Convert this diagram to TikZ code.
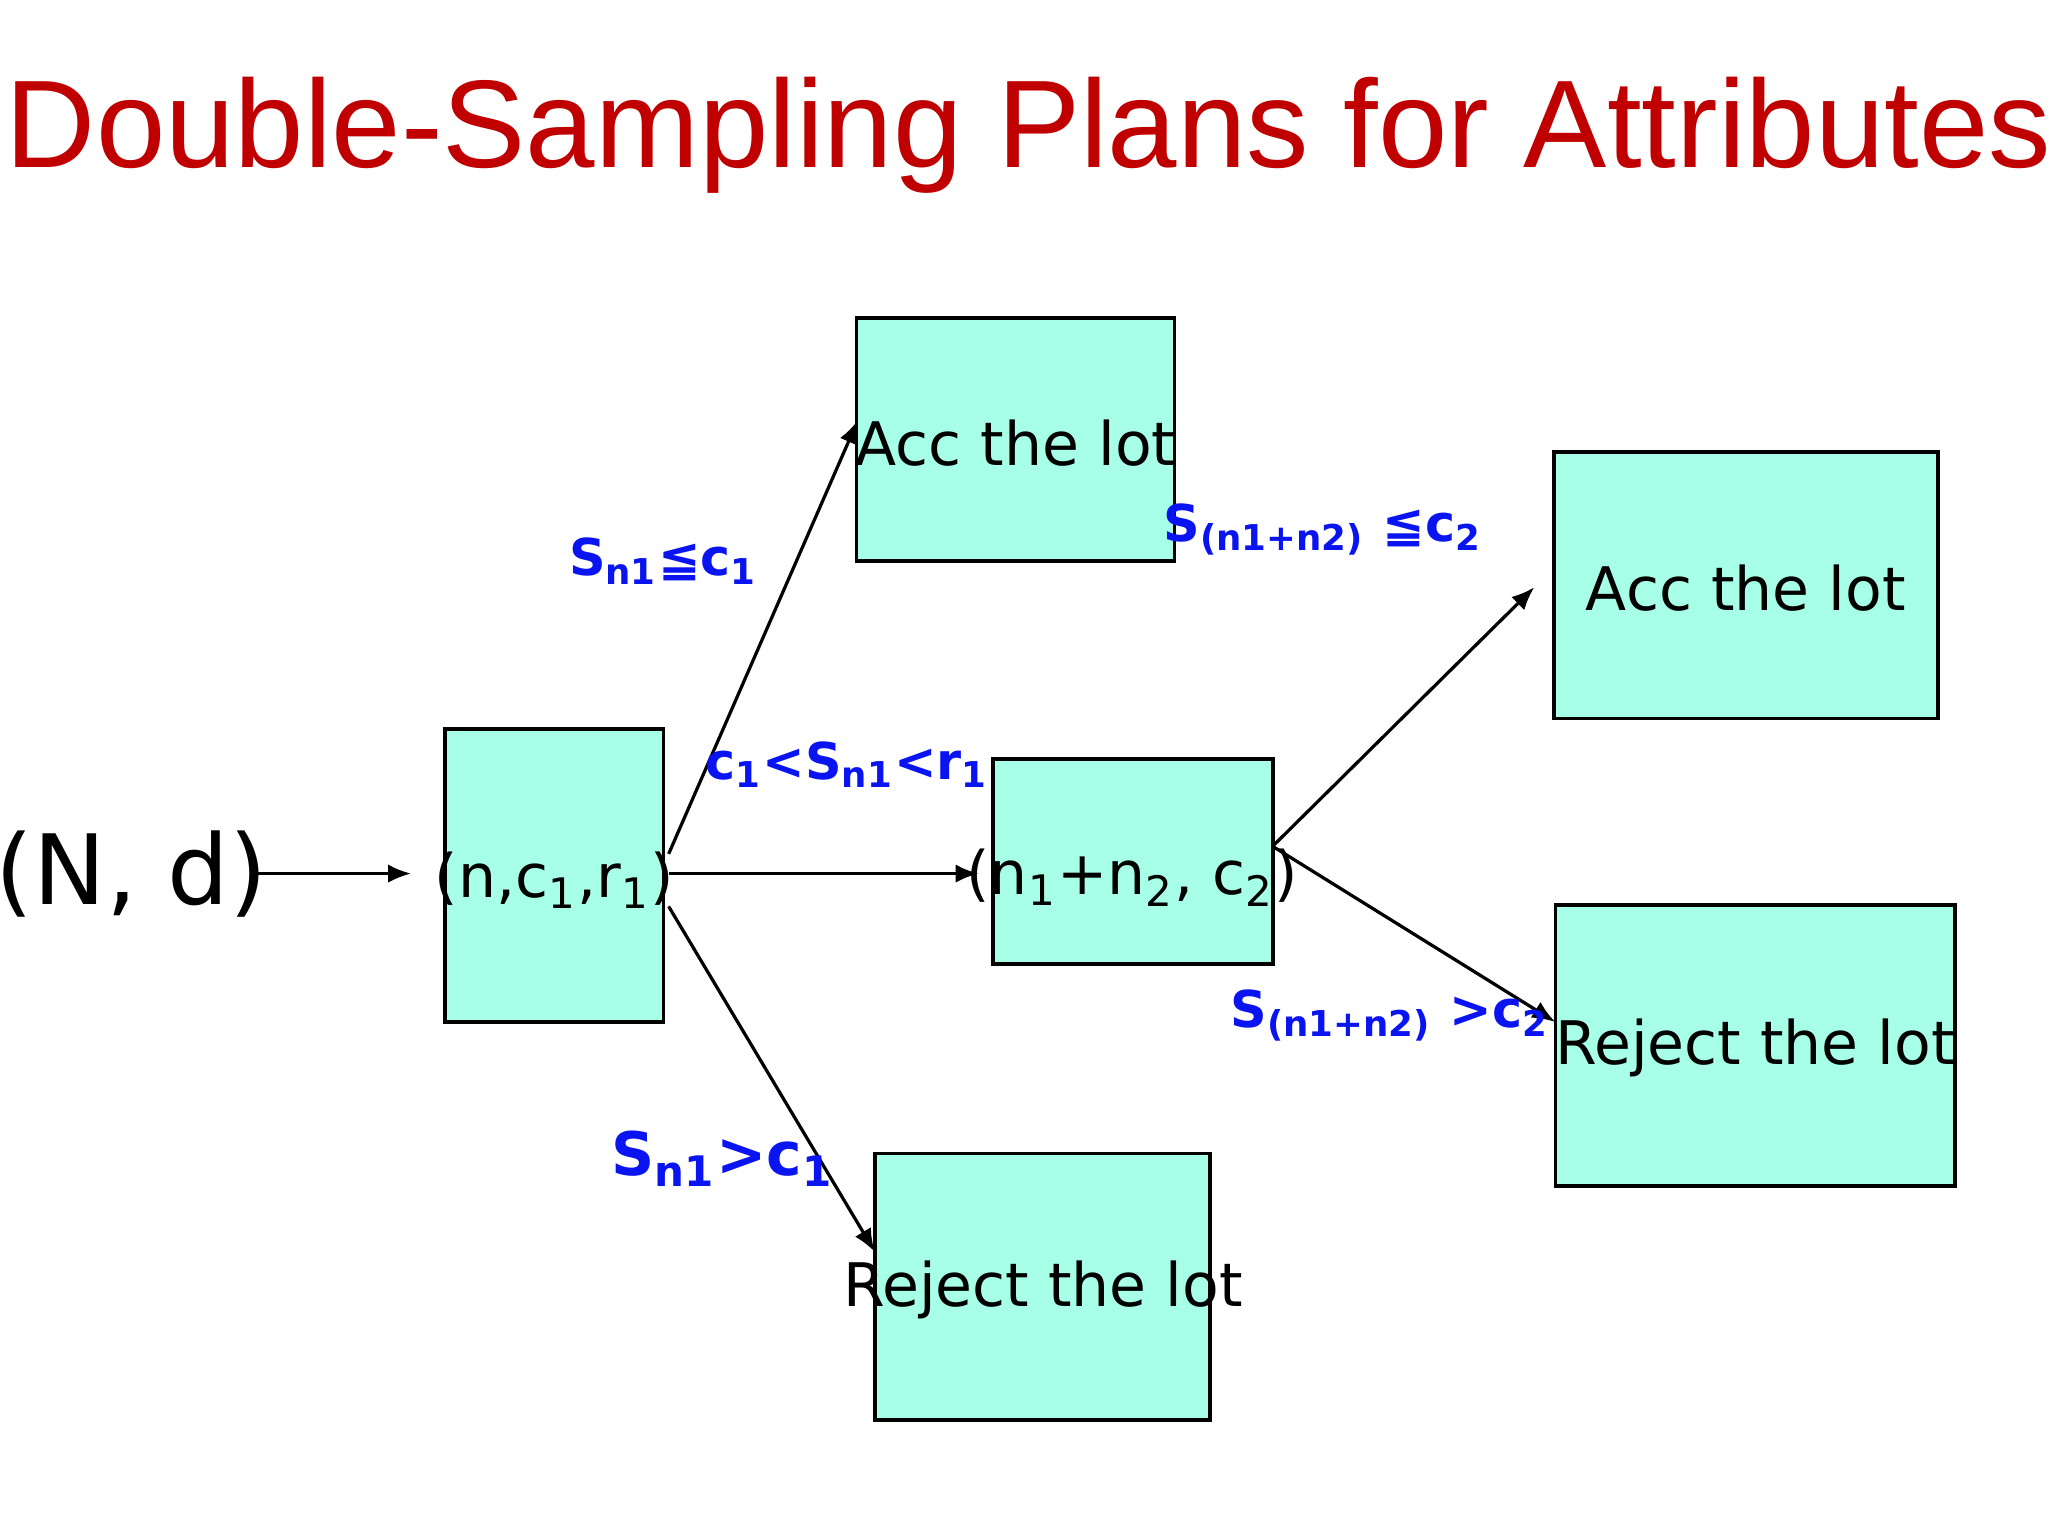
\documentclass[tikz,border=0pt]{standalone}
\usepackage{fontspec}
\setmainfont{DejaVu Sans}
\newfontfamily\titlefont{Liberation Sans}
\usetikzlibrary{arrows.meta}
\definecolor{boxfill}{HTML}{A6FFE6}
\definecolor{titlered}{HTML}{C00000}
\definecolor{lblblue}{HTML}{0A14F0}
\begin{document}
\begin{tikzpicture}[x=0.01cm,y=-0.01cm,
  box/.style={draw=black,line width=0.8pt,fill=boxfill,font=\fontsize{13}{15}\selectfont},
  lbl/.style={text=lblblue,font=\bfseries\fontsize{11}{13}\selectfont,inner sep=0pt},
  arr/.style={-{Latex[length=5pt,width=4pt]},line width=0.7pt}]
\useasboundingbox[fill=white] (0,0) rectangle (1559,1170);
\node[text=titlered,font=\titlefont\fontsize{27}{30}\selectfont] (title) at (783,103) {Double-Sampling Plans for Attributes};
\draw[box] (652,242) rectangle (894,427); \node[font=\fontsize{13}{15}\selectfont] (acc1) at (773,337) {Acc the lot};
\draw[box] (1183,344) rectangle (1475,547); \node[font=\fontsize{13}{15}\selectfont] (acc2) at (1329,448) {Acc the lot};
\draw[box] (756,578) rectangle (969,734); \node[font=\fontsize{13}{15}\selectfont] (mid) at (862,668) {(n\textsubscript{1}+n\textsubscript{2}, c\textsubscript{2})};
\draw[box] (1184,689) rectangle (1488,903); \node[font=\fontsize{13}{15}\selectfont] (rej2) at (1336,798) {Reject the lot};
\draw[box] (666,878) rectangle (921,1081); \node[font=\fontsize{13}{15}\selectfont] (rej1) at (794,982) {Reject the lot};
\draw[box] (339,555) rectangle (505,778); \node[font=\fontsize{13}{15}\selectfont] (start) at (422,670) {(n,c\textsubscript{1},r\textsubscript{1})};
\node[font=\fontsize{21}{24}\selectfont] (nd) at (100,665) {(N, d)};
\coordinate (ndE) at (195,665); \coordinate (stW) at (313,665);
\coordinate (s1) at (509,650); \coordinate (s2) at (509,665); \coordinate (s3) at (509,690);
\coordinate (a1) at (653,320); \coordinate (m1) at (745,665); \coordinate (r1) at (666,953);
\coordinate (mA) at (970,643); \coordinate (mB) at (970,645);
\coordinate (a2) at (1168,447); \coordinate (r2) at (1184,778);
\draw[arr] (ndE) -- (stW);
\draw[arr] (s1) -- (a1);
\draw[arr] (s2) -- (m1);
\draw[arr] (s3) -- (r1);
\draw[arr] (mA) -- (a2);
\draw[arr] (mB) -- (r2);
\node[lbl] (l1) at (505,427) {S\textsubscript{n1}≦c\textsubscript{1}};
\node[lbl] (l2) at (645,582) {c\textsubscript{1}<S\textsubscript{n1}<r\textsubscript{1}};
\node[lbl,font=\bfseries\fontsize{13}{15}\selectfont] (l3) at (550,882) {S\textsubscript{n1}>c\textsubscript{1}};
\node[lbl] (l4) at (1007,403) {S\textsubscript{(n1+n2)} ≦c\textsubscript{2}};
\node[lbl] (l5) at (1058,773) {S\textsubscript{(n1+n2)} >c\textsubscript{2}};
\end{tikzpicture}
\end{document}
